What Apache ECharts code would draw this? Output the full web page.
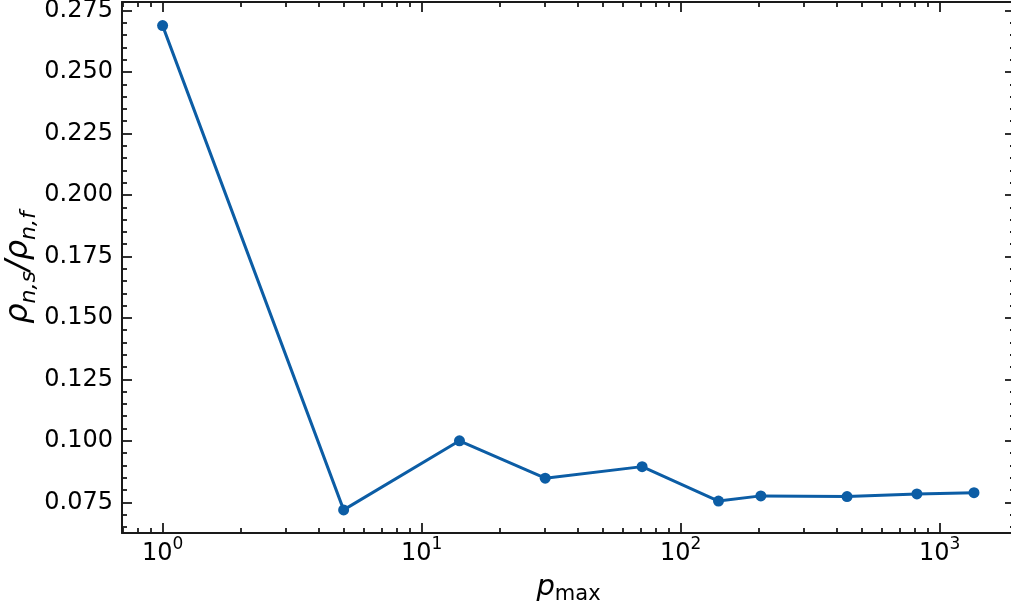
<!DOCTYPE html>
<html>
<head>
<meta charset="utf-8">
<script src="https://cdn.jsdelivr.net/npm/echarts@6/dist/echarts.min.js"></script>
<style>
  html, body { margin: 0; padding: 0; background: #ffffff; }
  #chart { width: 1011px; height: 609px; }
</style>
</head>
<body>
<div id="chart"></div>
<script>
// Cutoff momentum p_max and the ratio of normal densities rho_{n,s}/rho_{n,f}
const pMax = [1, 5, 14, 30, 71, 140, 204, 439, 817, 1357];
const densityRatio = [0.2689, 0.0719, 0.1000, 0.0848, 0.0895, 0.0755, 0.0776, 0.0773, 0.0784, 0.0789];

// Tick positions
const xMajorTicks = [1, 10, 100, 1000];
const xMinorTicks = [0.7, 0.8, 0.9, 2, 3, 4, 5, 6, 7, 8, 9, 20, 30, 40, 50, 60, 70, 80, 90,
                     200, 300, 400, 500, 600, 700, 800, 900];
const yMajorTicks = [0.075, 0.100, 0.125, 0.150, 0.175, 0.200, 0.225, 0.250, 0.275];
const yMinorTicks = [0.065, 0.070, 0.080, 0.085, 0.090, 0.095, 0.105, 0.110, 0.115, 0.120,
                     0.130, 0.135, 0.140, 0.145, 0.155, 0.160, 0.165, 0.170, 0.180, 0.185,
                     0.190, 0.195, 0.205, 0.210, 0.215, 0.220, 0.230, 0.235, 0.240, 0.245,
                     0.255, 0.260, 0.265, 0.270];

const X_MIN = 0.697, X_MAX = 1954;
const Y_MIN = 0.0625, Y_MAX = 0.2785;
const INK = '#1a1a1a';
const LINE = '#0C5DA5';
const FONT = 'DejaVu Sans';

function xAxisDef(position, ticks, len, showLine, showLabels) {
  return {
    type: 'log', logBase: 10, position: position, min: X_MIN, max: X_MAX,
    axisLine: { show: showLine, lineStyle: { color: INK, width: 2 } },
    axisTick: { show: true, inside: true, length: len, customValues: ticks,
                lineStyle: { color: INK, width: 1.8 } },
    axisLabel: showLabels ? {
      show: true, customValues: ticks, margin: 3,
      formatter: function (v) {
        const e = Math.round(Math.log10(v));
        return '{b|10}{s|' + e + '}';
      },
      rich: {
        b: { fontFamily: FONT, fontSize: 24, color: '#000', lineHeight: 30, verticalAlign: 'bottom' },
        s: { fontFamily: FONT, fontSize: 17, color: '#000', lineHeight: 17, verticalAlign: 'top' }
      }
    } : { show: false },
    splitLine: { show: false }
  };
}

function yAxisDef(position, ticks, len, showLine, showLabels) {
  return {
    type: 'value', position: position, min: Y_MIN, max: Y_MAX,
    axisLine: { show: showLine, lineStyle: { color: INK, width: 2 } },
    axisTick: { show: true, inside: true, length: len, customValues: ticks,
                lineStyle: { color: INK, width: 1.8 } },
    axisLabel: showLabels ? {
      show: true, customValues: ticks, margin: 9,
      fontFamily: FONT, fontSize: 24, color: '#000',
      formatter: function (v) { return v.toFixed(3); }
    } : { show: false },
    splitLine: { show: false }
  };
}

const xMain = xAxisDef('bottom', xMajorTicks, 10, true, true);
xMain.name = '{p|p}{sub|max}';
xMain.nameLocation = 'middle';
xMain.nameGap = 40;
xMain.nameMoveOverlap = false;
xMain.nameTextStyle = {
  rich: {
    p: { fontFamily: FONT, fontStyle: 'italic', fontSize: 29, color: '#000', lineHeight: 38, verticalAlign: 'top' },
    sub: { fontFamily: FONT, fontSize: 21, color: '#000', lineHeight: 21, verticalAlign: 'bottom', padding: [0, 0, 6, 0] }
  }
};

const yMain = yAxisDef('left', yMajorTicks, 10, true, true);
yMain.name = '{r|ρ}{sub|n,s}{r|/ρ}{sub|n,f}';
yMain.nameLocation = 'middle';
yMain.nameRotate = 90;
yMain.nameGap = 77;
yMain.nameMoveOverlap = false;
yMain.nameTextStyle = {
  rich: {
    r: { fontFamily: FONT, fontStyle: 'italic', fontSize: 32, color: '#000', lineHeight: 42, verticalAlign: 'top' },
    sub: { fontFamily: FONT, fontStyle: 'italic', fontSize: 22, color: '#000', lineHeight: 22, verticalAlign: 'bottom', padding: [0, 0, 5, 0] }
  }
};

const chart = echarts.init(document.getElementById('chart'), null, { renderer: 'canvas' });
chart.setOption({
  animation: false,
  backgroundColor: '#ffffff',
  grid: { left: 122, right: -4, top: 2, bottom: 76, containLabel: false, outerBoundsMode: 'none' },
  xAxis: [
    xMain,
    xAxisDef('bottom', xMinorTicks, 5, false, false),
    xAxisDef('top', xMajorTicks, 10, true, false),
    xAxisDef('top', xMinorTicks, 5, false, false)
  ],
  yAxis: [
    yMain,
    yAxisDef('left', yMinorTicks, 5, false, false),
    yAxisDef('right', yMajorTicks, 10, true, false),
    yAxisDef('right', yMinorTicks, 5, false, false)
  ],
  series: [{
    type: 'line',
    xAxisIndex: 0, yAxisIndex: 0,
    data: pMax.map(function (p, i) { return [p, densityRatio[i]]; }),
    lineStyle: { color: LINE, width: 3 },
    itemStyle: { color: LINE },
    symbol: 'circle', symbolSize: 11,
    showSymbol: true
  }]
});
</script>
</body>
</html>
